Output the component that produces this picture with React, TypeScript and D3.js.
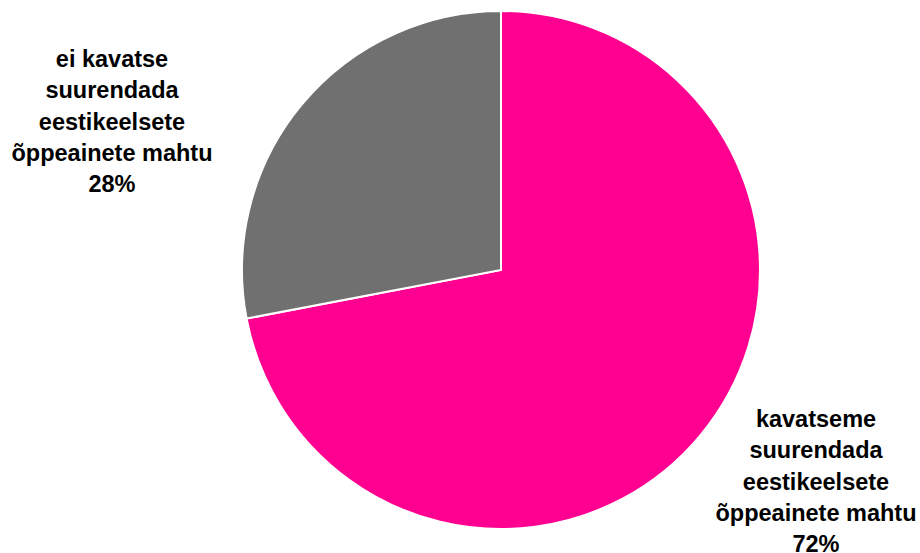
import React from 'react';
import { pie, arc } from 'd3';

// shares of schools, percent
const categories = [
    'kavatseme suurendada eestikeelsete õppeainete mahtu',
    'ei kavatse suurendada eestikeelsete õppeainete mahtu',
];
const values = [72, 28];
const colors = ['#FF0090', '#707070'];
const labelLines = [
    ['kavatseme', 'suurendada', 'eestikeelsete', 'õppeainete mahtu', '72%'],
    ['ei kavatse', 'suurendada', 'eestikeelsete', 'õppeainete mahtu', '28%'],
];

const W = 920;
const H = 553;
const cx = 501;
const cy = 270;
const r = 259;

// label anchor (centre x, first baseline) per slice
const labelPos = [
    { x: 816, y: 427 },
    { x: 112, y: 67 },
];
const lineStep = 31.3;

export default function App() {
    const arcs = pie<number>().sort(null)(values);
    const path = arc<any>().innerRadius(0).outerRadius(r);

    return (
        <svg
            width={W}
            height={H}
            style={{ position: 'absolute', left: 0, top: 0, background: '#fff' }}
        >
            <g transform={`translate(${cx},${cy})`}>
                {arcs.map((a, i) => (
                    <path
                        key={categories[i]}
                        d={path(a) || ''}
                        fill={colors[i]}
                        stroke="#fff"
                        strokeWidth={2}
                    />
                ))}
            </g>
            {labelLines.map((lines, i) => (
                <text
                    key={i}
                    textAnchor="middle"
                    fontFamily="'Liberation Sans', Arial, sans-serif"
                    fontWeight="bold"
                    fontSize={23.5}
                    fill="#000"
                >
                    {lines.map((l, j) => (
                        <tspan key={j} x={labelPos[i].x} y={labelPos[i].y + j * lineStep}>
                            {l}
                        </tspan>
                    ))}
                </text>
            ))}
        </svg>
    );
}
